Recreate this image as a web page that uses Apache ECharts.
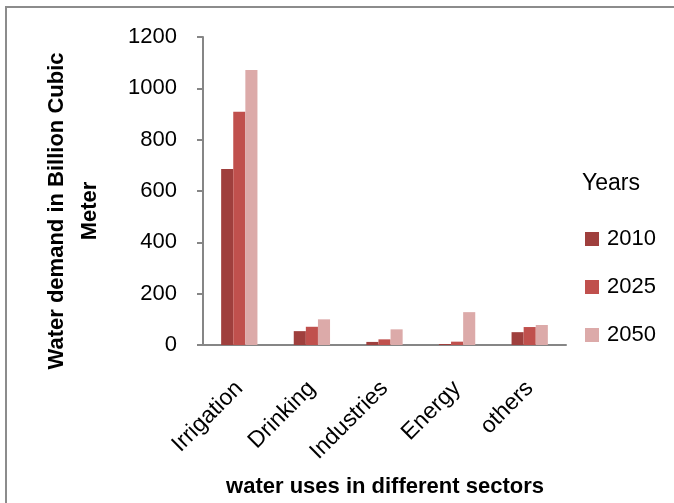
<!DOCTYPE html>
<html lang="en">
<head>
    <meta charset="UTF-8">
    <title>Water demand</title>
    <script src="https://cdn.jsdelivr.net/npm/echarts@6/dist/echarts.min.js"></script>
    <style>
        html, body {
            margin: 0;
            padding: 0;
            background: #fff;
        }

        #chart {
            width: 674px;
            height: 503px;
        }
    </style>
</head>
<body>
<div id="chart"></div>
<script>
    // data
    const sectors = ['Irrigation', 'Drinking', 'Industries', 'Energy', 'others'];
    const years = ['2010', '2025', '2050'];
    const demand2010 = [686, 54, 12, 4, 50];
    const demand2025 = [909, 71, 22, 13, 70];
    const demand2050 = [1071, 100, 61, 128, 78];
    const yearColors = ['#9f3f3d', '#c0504d', '#dcaaa9'];

    const font = '"Liberation Sans", Arial, sans-serif';
    const axisGray = '#868686';

    const chart = echarts.init(document.getElementById('chart'));

    const seriesData = [demand2010, demand2025, demand2050];

    chart.setOption({
        animation: false,
        textStyle: {fontFamily: font, color: '#000'},
        grid: {left: 203, right: 108, top: 37, bottom: 158},
        legend: {
            orient: 'vertical',
            left: 580,
            top: 223,
            itemWidth: 14,
            itemHeight: 14,
            itemGap: 26,
            icon: 'rect',
            textStyle: {fontSize: 22, color: '#000', padding: [0, 0, 0, 3]},
            data: years
        },
        xAxis: {
            type: 'category',
            data: sectors,
            axisLine: {lineStyle: {color: axisGray, width: 2}},
            axisTick: {show: false},
            axisLabel: {rotate: 45, fontSize: 23, color: '#000', margin: 40, interval: 0}
        },
        yAxis: {
            type: 'value',
            min: 0,
            max: 1200,
            interval: 200,
            splitLine: {show: false},
            axisLine: {show: true, lineStyle: {color: axisGray, width: 2}},
            axisTick: {show: true, length: 6, lineStyle: {color: axisGray, width: 2}},
            axisLabel: {fontSize: 22, color: '#000', margin: 26, formatter: v => String(v)}
        },
        series: years.map((y, i) => ({
            name: y,
            type: 'bar',
            data: seriesData[i],
            barGap: '0%',
            barCategoryGap: '50%',
            itemStyle: {color: yearColors[i]}
        })),
        graphic: [
            {
                type: 'rect',
                shape: {x: 6, y: 7, width: 800, height: 600},
                style: {fill: 'none', stroke: '#8c8c8c', lineWidth: 2},
                silent: true
            },
            {
                type: 'text',
                x: 73,
                y: 211,
                rotation: Math.PI / 2,
                style: {
                    text: 'Water demand in Billion Cubic\nMeter',
                    font: 'bold 22px ' + font,
                    lineHeight: 33,
                    align: 'center',
                    verticalAlign: 'middle',
                    fill: '#000'
                }
            },
            {
                type: 'text',
                x: 385,
                y: 487,
                style: {
                    text: 'water uses in different sectors',
                    font: 'bold 22px ' + font,
                    align: 'center',
                    verticalAlign: 'middle',
                    fill: '#000'
                }
            },
            {
                type: 'text',
                x: 582,
                y: 184,
                style: {
                    text: 'Years',
                    font: '23px ' + font,
                    align: 'left',
                    verticalAlign: 'middle',
                    fill: '#000'
                }
            }
        ]
    });
</script>
</body>
</html>
